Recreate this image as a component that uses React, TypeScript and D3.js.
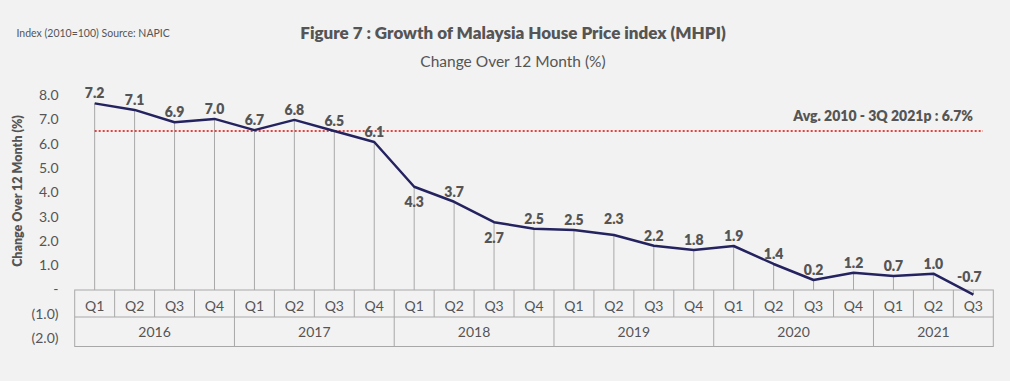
import React, { useEffect } from "react";
import * as d3 from "d3";

// Periods (categories)
const years = ["2016", "2017", "2018", "2019", "2020", "2021"];
const quartersPerYear = [4, 4, 4, 4, 4, 3];
const quarterNames = ["Q1", "Q2", "Q3", "Q4"];

// Published growth values (data labels, %)
const growthLabels = [
  7.2, 7.1, 6.9, 7.0,
  6.7, 6.8, 6.5, 6.1,
  4.3, 3.7, 2.7, 2.5,
  2.5, 2.3, 2.2, 1.8,
  1.9, 1.4, 0.2, 1.2,
  0.7, 1.0, -0.7,
];

// Line values (%)
const plottedValues = [
  7.66, 7.39, 6.88, 7.02,
  6.56, 6.98, 6.52, 6.07,
  4.23, 3.61, 2.77, 2.5,
  2.45, 2.24, 1.8, 1.63,
  1.79, 1.05, 0.39, 0.69,
  0.56, 0.65, -0.21,
];

const avgValue = 6.7;
const avgPlotted = 6.52;
const yTicks = [8, 7, 6, 5, 4, 3, 2, 1, 0, -1, -2];

const W = 1010;
const H = 381;
const FONT = "Lato, 'Open Sans', sans-serif";
const TEXT = "#555555";
const GRID = "#a8a8a8";

export default function App() {
  useEffect(() => {
    document.body.style.margin = "0";
    document.body.style.background = "#f2f2f2";
  }, []);

  const periods: { year: string; q: string }[] = [];
  years.forEach((y, i) => {
    for (let k = 0; k < quartersPerYear[i]; k++) periods.push({ year: y, q: quarterNames[k] });
  });
  const idx = periods.map((_, i) => i);

  const x = d3.scaleBand<number>().domain(idx).range([74.7, 993.3]).padding(0);
  const bw = x.bandwidth();
  const cx = (i: number) => (x(i) as number) + bw / 2;
  const y = d3.scaleLinear().domain([-2, 8]).range([338.1, 95.1]);

  const tableTop = 290;
  const rowMid = 317;
  const tableBottom = 346.5;

  const line = d3
    .line<number>()
    .x((_, i) => cx(i))
    .y((v) => y(v));

  const belowIdx = new Set([8, 10]);
  const labelOffset = (i: number) => {
    if (belowIdx.has(i)) return 20.5;
    if (i === 22) return -13;
    if (i === 13) return -11;
    return -5;
  };

  const fmtTick = (v: number) => (v > 0 ? v.toFixed(1) : v === 0 ? "-" : `(${(-v).toFixed(1)})`);

  // year groups
  let start = 0;
  const yearGroups = years.map((yr, i) => {
    const g = { yr, s: start, e: start + quartersPerYear[i] };
    start += quartersPerYear[i];
    return g;
  });
  const left = x(0) as number;
  const right = (x(idx.length - 1) as number) + bw;

  return (
    <svg width={W} height={H} style={{ display: "block", background: "#f2f2f2" }} fontFamily={FONT}>
      <rect x={0} y={0} width={W} height={H} fill="#f2f2f2" />
      <text x={16.5} y={37} fontSize={10.5} fill={TEXT}>
        Index (2010=100) Source: NAPIC
      </text>
      <text x={513} y={39} fontSize={17} fontWeight={800} fill={TEXT} textAnchor="middle">
        Figure 7 : Growth of Malaysia House Price index (MHPI)
      </text>
      <text x={513} y={67} fontSize={15.5} fill={TEXT} textAnchor="middle">
        Change Over 12 Month (%)
      </text>

      {/* y axis title */}
      <text
        transform={`translate(22,${191}) rotate(-90)`}
        fontSize={12.5}
        fontWeight={800}
        fill={TEXT}
        textAnchor="middle"
      >
        Change Over 12 Month (%)
      </text>

      {/* y ticks */}
      {yTicks.map((t) => (
        <text key={t} x={58.5} y={y(t)} dy="0.35em" fontSize={14} fill={TEXT} textAnchor="end">
          {fmtTick(t)}
        </text>
      ))}

      {/* drop lines */}
      {plottedValues.map((v, i) => (
        <line key={i} x1={cx(i)} x2={cx(i)} y1={y(v)} y2={tableTop} stroke={GRID} strokeWidth={1} />
      ))}

      {/* average line */}
      <line
        x1={cx(0)}
        x2={983}
        y1={y(avgPlotted)}
        y2={y(avgPlotted)}
        stroke="#e8413c"
        strokeWidth={2}
        strokeDasharray="2,2"
      />
      <text x={973} y={121} fontSize={14} fontWeight={800} fill={TEXT} textAnchor="end">
        {`Avg. 2010 - 3Q 2021p : ${avgValue.toFixed(1)}%`}
      </text>

      {/* table */}
      <g stroke={GRID} strokeWidth={1} fill="none">
        <rect x={left} y={tableTop} width={right - left} height={tableBottom - tableTop} />
        <line x1={left} x2={right} y1={rowMid} y2={rowMid} />
        {idx.slice(1).map((i) => (
          <line key={i} x1={x(i)} x2={x(i)} y1={tableTop} y2={rowMid} />
        ))}
        {yearGroups.slice(1).map((g) => (
          <line key={g.yr} x1={x(g.s)} x2={x(g.s)} y1={rowMid} y2={tableBottom} />
        ))}
      </g>
      {periods.map((p, i) => (
        <text key={i} x={cx(i)} y={310.5} fontSize={14} fill={TEXT} textAnchor="middle">
          {p.q}
        </text>
      ))}
      {yearGroups.map((g) => (
        <text
          key={g.yr}
          x={((x(g.s) as number) + (x(g.e - 1) as number) + bw) / 2}
          y={337.3}
          fontSize={14}
          fill={TEXT}
          textAnchor="middle"
        >
          {g.yr}
        </text>
      ))}

      {/* line */}
      <path d={line(plottedValues) || ""} fill="none" stroke="#24235f" strokeWidth={2.5} strokeLinejoin="round" />

      {/* data labels */}
      {growthLabels.map((v, i) => (
        <text
          key={i}
          x={i === 22 ? cx(i) - 4 : cx(i)}
          y={y(plottedValues[i]) + labelOffset(i)}
          fontSize={14}
          fontWeight={800}
          fill={TEXT}
          textAnchor="middle"
        >
          {v.toFixed(1)}
        </text>
      ))}
    </svg>
  );
}
